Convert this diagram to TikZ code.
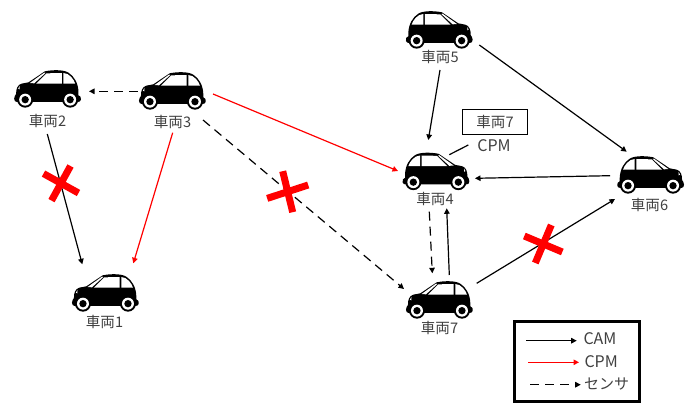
\documentclass[tikz,border=0pt]{standalone}
\usepackage{fontspec}
\setmainfont{Noto Sans CJK JP}
\usetikzlibrary{arrows.meta}
\definecolor{lab}{HTML}{404040}
\tikzset{
  x=1pt,y=-1pt,
  carnode/.style={minimum width=72pt,minimum height=60pt,inner sep=0pt},
  lbl/.style={font=\fontsize{14.6}{14.6}\selectfont,text=lab,inner sep=0pt},
  lat/.style={font=\fontsize{16}{16}\selectfont,text=lab,inner sep=0pt},
  cam/.style={draw=black,line width=1.2pt,-{Triangle[length=5.5pt,width=5.5pt]}},
  cpm/.style={draw=red,line width=1.2pt,-{Triangle[length=5.5pt,width=5.5pt]}},
  sens/.style={draw=black,line width=1.2pt,dash pattern=on 9pt off 6pt,-{Triangle[length=5.5pt,width=5.5pt]}},
  xmark/.style={draw=red,line width=7pt},
  pics/car/.style={code={
    \fill[black] (-100,32) .. controls (-100,24) and (-96,22) .. (-94,18)
       .. controls (-95,4) and (-90,-10) .. (-78,-13) -- (-57,-17)
       -- (-8,-50) .. controls (15,-55) and (50,-55) .. (63,-46)
       .. controls (80,-35) and (92,-15) .. (93,12) -- (93,22)
       .. controls (100,22) and (101,30) .. (100,36)
       .. controls (99,40) and (95,42) .. (90,42) -- (-92,42) .. controls (-97,42) and (-100,38) .. (-100,32) -- cycle;
    \fill[white] (-34,-13) -- (-3,-44) -- (43,-45) -- (43,-13) -- cycle;
    \fill[white] (48,-45) .. controls (65,-45) and (80,-25) .. (83,-13) -- (48,-13) -- cycle;
    \fill[white] (-53,-15) -- (-10,-46) -- (-6,-45) -- (-40,-14) -- cycle;
    \fill[white] (-88,2) -- (-84,-6) -- (-84,4) -- cycle;
    \foreach \cx in {-67,68}{
      \fill[black] (\cx,35) circle[radius=24];
      \fill[white] (\cx,35) circle[radius=18];
      \fill[black] (\cx,35) circle[radius=11];
    }
  }}
}
\begin{document}
\begin{tikzpicture}
\useasboundingbox (0,0) rectangle (693,403);
% cars with named nodes (centre of car + label block)
\node[carnode] (v1) at (105,305) {};
\node[carnode] (v2) at (47.5,100) {};
\node[carnode] (v3) at (172.3,102) {};
\node[carnode] (v4) at (436,182) {};
\node[carnode] (v5) at (439.3,40) {};
\node[carnode] (v6) at (650.7,186) {};
\node[carnode] (v7) at (439.3,311) {};
\pic[xscale=0.3333,yscale=0.3333] at (105.3,292) {car};
\pic[xscale=0.3333,yscale=0.3333] at (47.5,88) {car};
\pic[xscale=0.3333,yscale=0.3333] at (172.3,90) {car};
\pic[xscale=-0.3333,yscale=0.3333] at (436,170.5) {car};
\pic[xscale=-0.3333,yscale=0.3333] at (439.3,29) {car};
\pic[xscale=-0.3333,yscale=0.3333] at (650.7,174) {car};
\pic[xscale=0.3333,yscale=0.3333] at (439.3,299) {car};
\node[lbl] (l1) at (104.5,322) {車両1};
\node[lbl] (l2) at (47.5,121) {車両2};
\node[lbl] (l3) at (172.5,122) {車両3};
\node[lbl] (l4) at (435,199) {車両4};
\node[lbl] (l5) at (440,57) {車両5};
\node[lbl] (l6) at (649.5,204.5) {車両6};
\node[lbl] (l7) at (439.5,328) {車両7};
% connectors
\draw[sens] ([shift={(90.2,-8.7)}]v2.center) -- ([shift={(41.5,-8.7)}]v2.center);
\draw[cam] ([shift={(-0.2,34)}]v2.center) -- ([shift={(-22.7,-40.7)}]v1.center);
\draw[cpm] ([shift={(0.4,30.7)}]v3.center) -- ([shift={(28.3,-41.7)}]v1.center);
\draw[cpm] ([shift={(40.7,-8)}]v3.center) -- ([shift={(-38,-11)}]v4.center);
\draw[sens] ([shift={(30.7,18)}]v3.center) -- ([shift={(-35.3,-22)}]v7.center);
\draw[cam] ([shift={(0.7,30)}]v5.center) -- ([shift={(-7.7,-42)}]v4.center);
\draw[cam] ([shift={(40,5)}]v5.center) -- ([shift={(-24,-34.3)}]v6.center);
\draw[cam] ([shift={(-40.7,-10.3)}]v6.center) -- ([shift={(39,-3.7)}]v4.center);
\draw[cam] ([shift={(37.4,-27.7)}]v7.center) -- ([shift={(-35.7,13)}]v6.center);
\draw[sens] ([shift={(-6.7,29.7)}]v4.center) -- ([shift={(-7,-37.7)}]v7.center);
\draw[cam] ([shift={(10,-36)}]v7.center) -- ([shift={(10.7,26.3)}]v4.center);
% crosses
\coordinate (x1) at (61,183.3);
\coordinate (x2) at (287.7,191.7);
\coordinate (x3) at (543.3,244);
\draw[xmark] ([shift={(-17.5,-9.7)}]x1) -- ([shift={(17.5,9.7)}]x1);
\draw[xmark] ([shift={(9.5,-17.3)}]x1) -- ([shift={(-9.5,17.3)}]x1);
\draw[xmark] ([shift={(-20.5,6.7)}]x2) -- ([shift={(20.5,-6.7)}]x2);
\draw[xmark] ([shift={(-5,-20.5)}]x2) -- ([shift={(5,20.5)}]x2);
\draw[xmark] ([shift={(-19,-8)}]x3) -- ([shift={(19,8)}]x3);
\draw[xmark] ([shift={(8,-19)}]x3) -- ([shift={(-8,19)}]x3);
% CPM tag
\node[draw=black,line width=1.2pt,minimum width=65pt,minimum height=25pt,inner sep=0pt,lbl] (tag) at (495,122) {車両7};
\node[lat] (cpmt) at (494,146) {CPM};
\draw[black,line width=1.2pt] ([shift={(-44.7,8.7)}]cpmt.center) -- ([shift={(-25.7,-1)}]cpmt.center);
% legend
\node[draw=black,line width=3pt,minimum width=125pt,minimum height=80pt,inner sep=0pt] (leg) at (576.8,361.7) {};
\node[lat,anchor=west] (lc1) at (583.3,339) {CAM};
\node[lat,anchor=west] (lc2) at (584.3,362) {CPM};
\node[lbl,anchor=west,font=\fontsize{15}{15}\selectfont] (lc3) at (584,384) {センサ};
\coordinate (ls1) at (526,340.7);
\coordinate (ls2) at (528.3,362.3);
\coordinate (ls3) at (530,384.7);
\draw[cam] (ls1) -- ++(50.7,0);
\draw[cpm] (ls2) -- ++(50.7,0);
\draw[sens] (ls3) -- ++(50.7,0);
\end{tikzpicture}
\end{document}
